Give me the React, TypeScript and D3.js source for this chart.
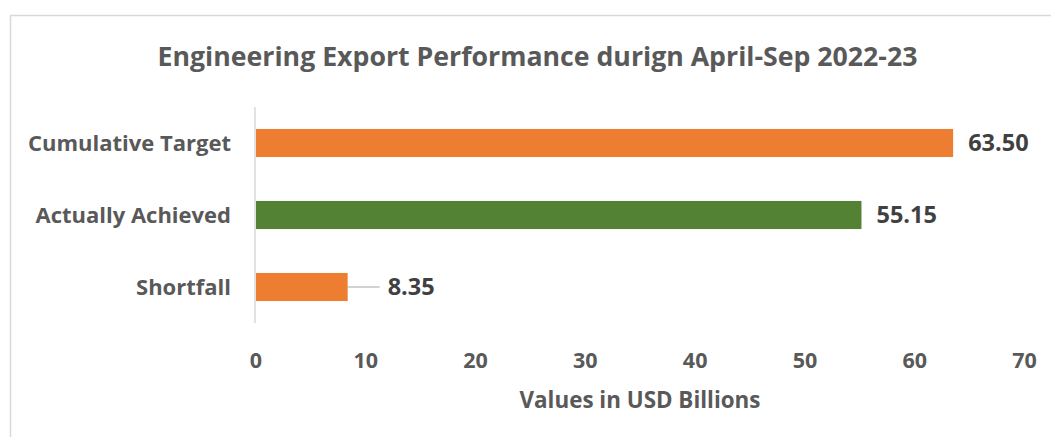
import React from "react";
import * as d3 from "d3";

const categories = ["Cumulative Target", "Actually Achieved", "Shortfall"];
const values = [63.5, 55.15, 8.35];
const barColors = ["#ED7D31", "#548235", "#ED7D31"];
const xTicks = [0, 10, 20, 30, 40, 50, 60, 70];
const title = "Engineering Export Performance durign April-Sep 2022-23";
const xTitle = "Values in USD Billions";

const W = 1051;
const H = 437;
const FONT = "'Open Sans', Lato, sans-serif";

export default function App() {
  const plotLeft = 256;
  const plotRight = 1024.5;
  const plotTop = 107;
  const plotBottom = 323;
  const x = d3.scaleLinear().domain([0, 70]).range([plotLeft, plotRight]);
  const y = d3
    .scaleBand<string>()
    .domain(categories)
    .range([plotTop, plotBottom])
    .paddingInner(0.61)
    .paddingOuter(0.305);

  return (
    <svg
      width={W}
      height={H}
      style={{ position: "absolute", left: 0, top: 0, display: "block" }}
      fontFamily={FONT}
    >
      <rect x={0} y={0} width={W} height={H} fill="#fff" />
      <rect x={10.5} y={15.5} width={W + 20} height={H + 20} fill="none" stroke="#D9D9D9" strokeWidth={1.5} />
      <text x={537.5} y={66} textAnchor="middle" fontSize={26.7} fontWeight={700} fill="#595959">
        {title}
      </text>
      {categories.map((c, i) => {
        const by = y(c)!;
        const bh = y.bandwidth();
        const xe = x(values[i]);
        const cy = by + bh / 2;
        const isSmall = values[i] < 20;
        return (
          <g key={c}>
            <rect x={x(0)} y={by} width={xe - x(0)} height={bh} fill={barColors[i]} />
            <text x={231} y={cy} dy="0.36em" textAnchor="end" fontSize={22} fontWeight={700} fill="#595959">
              {c}
            </text>
            {isSmall ? (
              <>
                <line x1={xe} y1={cy} x2={xe + 32} y2={cy} stroke="#A6A6A6" strokeWidth={1} />
                <text x={xe + 40} y={cy} dy="0.36em" fontSize={23.5} fontWeight={700} fill="#404040">
                  {values[i].toFixed(2)}
                </text>
              </>
            ) : (
              <text x={xe + 15} y={cy} dy="0.36em" fontSize={23.5} fontWeight={700} fill="#404040">
                {values[i].toFixed(2)}
              </text>
            )}
          </g>
        );
      })}
      <line x1={plotLeft - 1} y1={plotTop} x2={plotLeft - 1} y2={plotBottom} stroke="#D9D9D9" strokeWidth={1.5} />
      {xTicks.map((t) => (
        <text key={t} x={x(t)} y={360} dy="0.36em" textAnchor="middle" fontSize={21.5} fontWeight={700} fill="#595959">
          {t}
        </text>
      ))}
      <text x={640} y={400} dy="0.36em" textAnchor="middle" fontSize={22.4} fontWeight={700} fill="#595959">
        {xTitle}
      </text>
    </svg>
  );
}
